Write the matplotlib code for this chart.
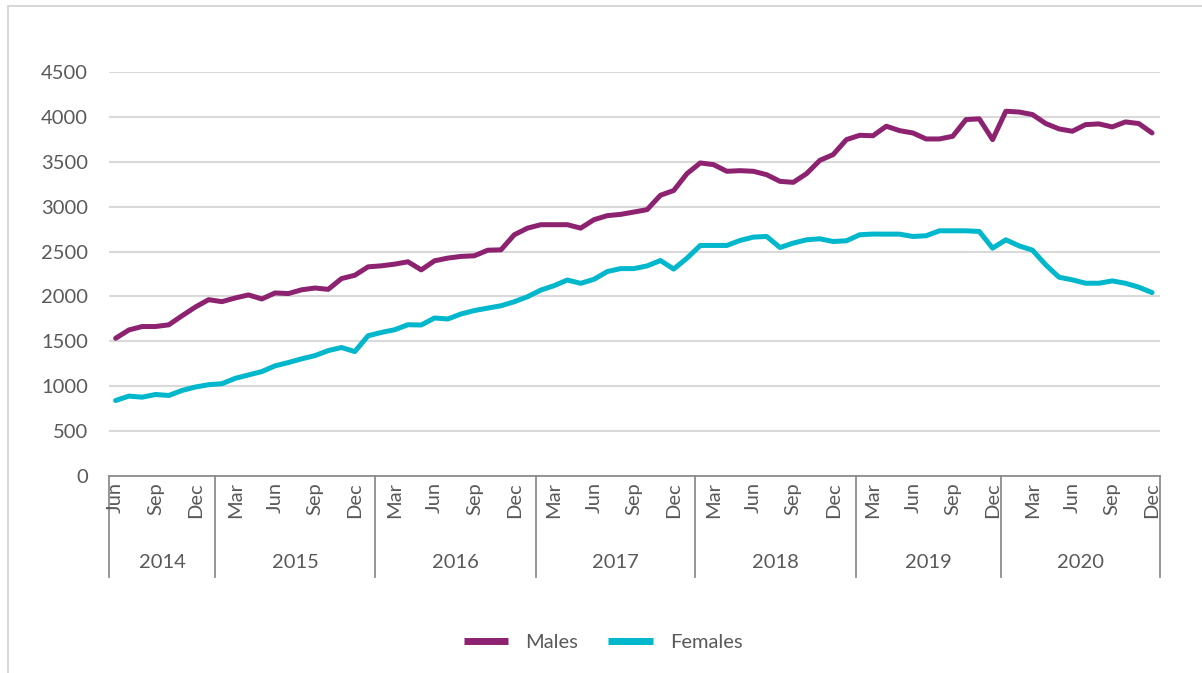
import numpy as np
import matplotlib.pyplot as plt
from matplotlib.lines import Line2D

# monthly counts, Jun 2014 - Dec 2020
months = ['Jun', 'Jul', 'Aug', 'Sep', 'Oct', 'Nov', 'Dec'] + \
         ['Jan', 'Feb', 'Mar', 'Apr', 'May', 'Jun', 'Jul', 'Aug', 'Sep', 'Oct', 'Nov', 'Dec'] * 6
years = ['2014', '2015', '2016', '2017', '2018', '2019', '2020']
# where the year groups start/end on the category axis
year_edges = [-0.5, 7.5, 19.5, 31.6, 43.6, 55.7, 66.6, 78.6]

males = [1534, 1627, 1665, 1665, 1684, 1785, 1882, 1964, 1942, 1983, 2017, 1972,
         2039, 2032, 2074, 2094, 2079, 2199, 2236, 2330, 2341, 2360, 2386, 2296,
         2397, 2427, 2446, 2453, 2515, 2519, 2687, 2761, 2799, 2799, 2799, 2761,
         2855, 2900, 2914, 2940, 2967, 3127, 3180, 3368, 3487, 3468, 3394, 3401,
         3394, 3356, 3282, 3271, 3368, 3516, 3580, 3747, 3795, 3790, 3896, 3847,
         3821, 3754, 3754, 3784, 3970, 3978, 3747, 4063, 4054, 4026, 3926, 3866,
         3840, 3914, 3922, 3888, 3944, 3926, 3821]
females = [841, 890, 878, 908, 897, 953, 991, 1017, 1028, 1088, 1126, 1163,
           1227, 1264, 1305, 1341, 1397, 1431, 1386, 1562, 1599, 1629, 1685, 1682,
           1760, 1749, 1805, 1843, 1870, 1896, 1941, 1997, 2071, 2120, 2183, 2146,
           2191, 2277, 2310, 2310, 2340, 2400, 2305, 2426, 2568, 2568, 2568, 2624,
           2661, 2668, 2545, 2594, 2631, 2642, 2612, 2620, 2687, 2695, 2694, 2694,
           2668, 2676, 2731, 2731, 2731, 2724, 2538, 2631, 2563, 2516, 2352, 2214,
           2185, 2147, 2147, 2173, 2147, 2103, 2043]

plt.rcParams['font.family'] = ['Lato', 'DejaVu Sans']
txt = '#595959'
axis_col = '#8c8c8c'
fs = 14.5

fig = plt.figure(figsize=(12.02, 6.73), dpi=100)
ax = fig.add_axes([109 / 1202, 1 - 476 / 673, 1051 / 1202, 404 / 673])

x = np.arange(len(males))
ax.plot(x, males, color='#8C2270', lw=3.6, solid_capstyle='round', solid_joinstyle='round', label='Males')
ax.plot(x, females, color='#00B7CB', lw=3.6, solid_capstyle='round', solid_joinstyle='round', label='Females')

ax.set_ylim(0, 4500)
ax.set_xlim(year_edges[0], year_edges[-1])
ax.set_yticks(np.arange(0, 4501, 500))
ax.grid(axis='y', color='#d9d9d9', lw=1.5)
ax.set_axisbelow(True)
for s in ['top', 'right', 'left']:
    ax.spines[s].set_visible(False)
ax.spines['bottom'].set_color(axis_col)
ax.spines['bottom'].set_linewidth(1.3)
ax.tick_params(axis='y', length=0, pad=15, labelsize=fs, labelcolor=txt)
ax.tick_params(axis='x', length=0, labelbottom=False)

# month labels every quarter
for i, m in enumerate(months):
    if m in ('Mar', 'Jun', 'Sep', 'Dec'):
        ax.annotate(m, (i, 0), xycoords=('data', 'axes fraction'), xytext=(0, -6),
                    textcoords='offset pixels', rotation=90, ha='center', va='top',
                    fontsize=fs, color=txt)

# year group boxes
for e in year_edges:
    ax.add_line(Line2D([e, e], [0, -101 / 404], transform=ax.get_xaxis_transform(),
                       color=axis_col, lw=1.3, clip_on=False))
for k, yr in enumerate(years):
    mid = (year_edges[k] + year_edges[k + 1]) / 2
    ax.annotate(yr, (mid, 0), xycoords=('data', 'axes fraction'), xytext=(0, -86),
                textcoords='offset pixels', ha='center', va='center',
                fontsize=fs, color=txt)

leg = fig.legend(loc='center', bbox_to_anchor=(603 / 1202, 1 - 642 / 673), ncol=2,
                 frameon=False, fontsize=fs, handlelength=2.2, handletextpad=0.85,
                 columnspacing=1.5, labelcolor=txt)
for ln in leg.get_lines():
    ln.set_linewidth(5)
    ln.set_solid_capstyle('butt')

# chart area border
fig.add_artist(plt.Rectangle((8 / 1202, -0.1), 1.2, 1.1 - 6 / 673, transform=fig.transFigure,
                             fill=False, edgecolor='#d0d0d0', lw=1.2))

fig.savefig('out.png', dpi=100)
